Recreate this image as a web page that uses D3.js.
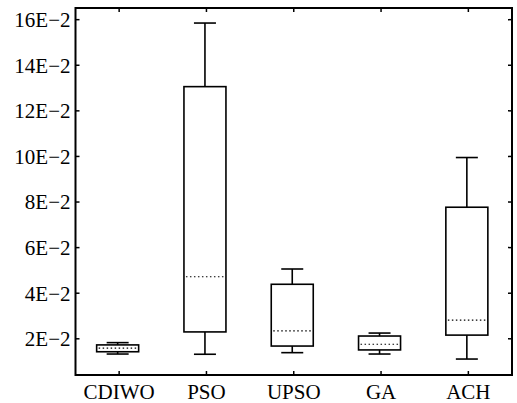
<!DOCTYPE html>
<html>
<head>
<meta charset="utf-8">
<script src="https://cdn.jsdelivr.net/npm/d3@7"></script>
<style>
  body { margin: 0; background: #fff; }
  svg { display: block; }
  text { font-family: "Liberation Serif", "Times New Roman", serif; }
</style>
</head>
<body>
<div id="app"></div>
<script>
// values in units of 1E-2
const categories = ['CDIWO', 'PSO', 'UPSO', 'GA', 'ACH'];
const whiskerLow = [1.31, 1.30, 1.37, 1.31, 1.09];
const q1 = [1.41, 2.28, 1.66, 1.49, 2.14];
const median = [1.57, 4.70, 2.33, 1.74, 2.80];
const q3 = [1.71, 13.04, 4.37, 2.10, 7.75];
const whiskerHigh = [1.81, 15.83, 5.04, 2.23, 9.93];
const yTicks = [2, 4, 6, 8, 10, 12, 14, 16];

const W = 517, H = 403;
const m = { left: 75.5, right: 5, top: 8, bottom: 28 };

const svg = d3.select('#app').append('svg').attr('width', W).attr('height', H);

const x = d3.scaleBand().domain(categories)
    .range([m.left, W - m.right]).padding(0);
const y = d3.scaleLinear().domain([0.39, 16.49])
    .range([H - m.bottom, m.top]);

const fmt = d => d + 'E\u22122';

// axes, ticks pointing inward
let gL = svg.append('g').attr('transform', `translate(${m.left},0)`)
    .call(d3.axisLeft(y).tickValues(yTicks).tickSizeInner(-4).tickSizeOuter(0).tickPadding(5).tickFormat(fmt));
let gR = svg.append('g').attr('transform', `translate(${W - m.right},0)`)
    .call(d3.axisRight(y).tickValues(yTicks).tickSizeInner(-4).tickSizeOuter(0).tickFormat(''));
let gB = svg.append('g').attr('transform', `translate(0,${H - m.bottom})`)
    .call(d3.axisBottom(x).tickSizeInner(-4).tickSizeOuter(0).tickPadding(9));
let gT = svg.append('g').attr('transform', `translate(0,${m.top})`)
    .call(d3.axisTop(x).tickSizeInner(-4).tickSizeOuter(0).tickFormat(''));

[gL, gR, gB, gT].forEach(g => {
    g.select('.domain').remove();
    g.selectAll('line').attr('stroke', '#000').attr('stroke-width', 1.5);
    g.selectAll('text').attr('fill', '#000').style('font-size', '21px')
        .style('font-family', '"Liberation Serif", "Times New Roman", serif');
});
gL.selectAll('text').attr('dy', '0.35em');

// frame
svg.append('rect')
    .attr('x', m.left).attr('y', m.top)
    .attr('width', W - m.right - m.left).attr('height', H - m.bottom - m.top)
    .attr('fill', 'none').attr('stroke', '#000').attr('stroke-width', 2);

const boxW = 42, capW = 22;
const rows = categories.map((c, i) => ({
    c, lo: whiskerLow[i], q1: q1[i], med: median[i], q3: q3[i], hi: whiskerHigh[i]
}));

const g = svg.append('g').selectAll('g').data(rows).enter().append('g')
    .attr('transform', d => `translate(${x(d.c) + x.bandwidth() / 2 - 1.5},0)`);

// whiskers
g.append('line').attr('x1', 0).attr('x2', 0)
    .attr('y1', d => y(d.q3)).attr('y2', d => y(d.hi))
    .attr('stroke', '#000').attr('stroke-width', 1.6);
g.append('line').attr('x1', 0).attr('x2', 0)
    .attr('y1', d => y(d.q1)).attr('y2', d => y(d.lo))
    .attr('stroke', '#000').attr('stroke-width', 1.6);
g.append('line').attr('x1', -capW / 2).attr('x2', capW / 2)
    .attr('y1', d => y(d.hi)).attr('y2', d => y(d.hi))
    .attr('stroke', '#000').attr('stroke-width', 1.6);
g.append('line').attr('x1', -capW / 2).attr('x2', capW / 2)
    .attr('y1', d => y(d.lo)).attr('y2', d => y(d.lo))
    .attr('stroke', '#000').attr('stroke-width', 1.6);

// boxes
g.append('rect')
    .attr('x', -boxW / 2).attr('width', boxW)
    .attr('y', d => y(d.q3)).attr('height', d => y(d.q1) - y(d.q3))
    .attr('fill', '#fff').attr('stroke', '#000').attr('stroke-width', 1.6);

// medians (dotted)
g.append('line').attr('x1', -boxW / 2 + 2).attr('x2', boxW / 2 - 1)
    .attr('y1', d => y(d.med)).attr('y2', d => y(d.med))
    .attr('stroke', '#000').attr('stroke-width', 1.2)
    .attr('stroke-dasharray', '1.5,2.5');
</script>
</body>
</html>
